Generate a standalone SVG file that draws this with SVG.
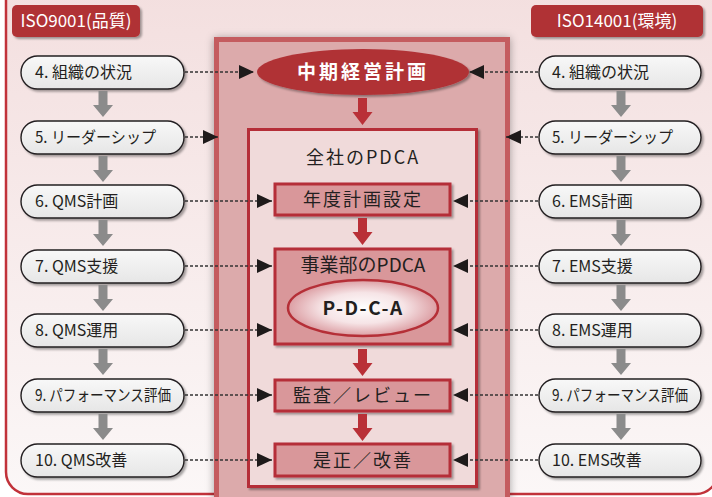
<svg xmlns="http://www.w3.org/2000/svg" width="712" height="497" viewBox="0 0 712 497">
<style>
.t{font-family:"Noto Sans CJK JP","Liberation Sans",sans-serif;fill:#231f20}
.gb{fill:url(#gbox);stroke:#231f20;stroke-width:1.4;filter:url(#sh)}
.gt{font-size:16px}
.sb{fill:#d9979a;stroke:#b52f37;stroke-width:3;filter:url(#sh)}
.ct{font-size:18px;letter-spacing:2px}
.lab{fill:#b03035;filter:url(#sh)}
.lt{font-family:"Noto Sans CJK JP","Liberation Sans",sans-serif;fill:#fff;font-size:17px}
.dl{fill:none;stroke:#333;stroke-width:1.5;stroke-dasharray:3 2;marker-end:url(#ah)}
.ga{fill:#8b8b8b}
.ra{fill:#b93037}
</style>
<defs>
<linearGradient id="bg" x1="0" y1="0" x2="0" y2="1">
<stop offset="0" stop-color="#f3dede"/>
<stop offset="1" stop-color="#fbf7f7"/>
</linearGradient>
<linearGradient id="gbox" x1="0" y1="0" x2="0" y2="1">
<stop offset="0" stop-color="#f8f8f8"/>
<stop offset="1" stop-color="#e6e6e6"/>
</linearGradient>
<radialGradient id="pdca" cx="0.5" cy="0.5" r="0.5">
<stop offset="0" stop-color="#ffffff"/>
<stop offset="0.55" stop-color="#f6e4e6"/>
<stop offset="1" stop-color="#dc9ea3"/>
</radialGradient>
<filter id="sh" x="-10%" y="-20%" width="130%" height="160%">
<feDropShadow dx="2" dy="2" stdDeviation="1" flood-color="#000" flood-opacity="0.35"/>
</filter>
<filter id="glow" x="-10%" y="-10%" width="120%" height="120%">
<feDropShadow dx="0" dy="1" stdDeviation="4" flood-color="#000" flood-opacity="0.35"/>
</filter>
<marker id="ah" viewBox="0 0 15 14" refX="15" refY="7" markerWidth="15" markerHeight="14" markerUnits="userSpaceOnUse" orient="auto">
<path d="M0,0 L15,7 L0,14 Z" fill="#1e1a1a"/>
</marker>
<path id="garrow" d="M-4.5,0 H4.5 V14 H10 L0,26 L-10,14 H-4.5 Z"/>
<path id="rarrow" d="M-4.5,0 H4.5 V14 H10 L0,27 L-10,14 H-4.5 Z"/>
</defs>

<rect x="0" y="0" width="712" height="497" fill="#ffffff"/>
<rect x="6" y="-30" width="712" height="524" rx="22" fill="url(#bg)" stroke="#c1323a" stroke-width="2.5"/>

<g id="label-iso9001">
<rect class="lab" x="12" y="5" width="128" height="32" rx="5"/>
<text class="lt" x="76" y="27" text-anchor="middle">ISO9001(品質)</text>
</g>
<g id="label-iso14001">
<rect class="lab" x="531" y="5" width="172" height="32" rx="5"/>
<text class="lt" x="617" y="27" text-anchor="middle">ISO14001(環境)</text>
</g>

<g id="center-frame">
<rect x="216.5" y="39.5" width="291" height="470" fill="#dcaaab" stroke="#c45c5e" stroke-width="5" filter="url(#glow)"/>
</g>

<g id="mid-plan">
<ellipse cx="363" cy="72" rx="106" ry="23" fill="#b03035" filter="url(#sh)"/>
<text x="363" y="79" text-anchor="middle" font-family="'Noto Sans CJK JP','Liberation Sans',sans-serif" font-size="19" fill="#fff" letter-spacing="3" font-weight="bold">中期経営計画</text>
</g>

<g id="company-pdca">
<rect x="248.5" y="129.5" width="228" height="357" fill="#f0dada" stroke="#b52f37" stroke-width="3" filter="url(#sh)"/>
<text class="t" x="363" y="164" text-anchor="middle" font-size="18" letter-spacing="2">全社のPDCA</text>
</g>

<g id="annual-plan">
<rect class="sb" x="275" y="184" width="175" height="31"/>
<text class="t ct" x="363" y="206" text-anchor="middle">年度計画設定</text>
</g>

<g id="division-pdca">
<rect class="sb" x="275" y="249" width="175" height="95"/>
<text class="t" x="363" y="272" text-anchor="middle" font-size="19">事業部のPDCA</text>
<ellipse cx="363" cy="308" rx="75" ry="28" fill="url(#pdca)" stroke="#b52f37" stroke-width="2.5"/>
<text class="t" x="363" y="315" text-anchor="middle" font-size="19" font-weight="bold" letter-spacing="1.5">P-D-C-A</text>
</g>

<g id="audit-review">
<rect class="sb" x="275" y="380" width="175" height="31"/>
<text class="t ct" x="363" y="402" text-anchor="middle" letter-spacing="1.5">監査／レビュー</text>
</g>

<g id="correction">
<rect class="sb" x="275" y="444" width="175" height="32"/>
<text class="t ct" x="363" y="467" text-anchor="middle" letter-spacing="2.5">是正／改善</text>
</g>

<g id="qms-4"><rect class="gb" x="21" y="56" width="163" height="33" rx="16.5"/><text class="t gt" x="35" y="78">4. 組織の状況</text></g>
<g id="qms-5"><rect class="gb" x="21" y="121" width="163" height="33" rx="16.5"/><text class="t gt" x="35" y="143" textLength="121" lengthAdjust="spacingAndGlyphs">5. リーダーシップ</text></g>
<g id="qms-6"><rect class="gb" x="21" y="185" width="163" height="33" rx="16.5"/><text class="t gt" x="35" y="207">6. QMS計画</text></g>
<g id="qms-7"><rect class="gb" x="21" y="250" width="163" height="33" rx="16.5"/><text class="t gt" x="35" y="272">7. QMS支援</text></g>
<g id="qms-8"><rect class="gb" x="21" y="314" width="163" height="33" rx="16.5"/><text class="t gt" x="35" y="336">8. QMS運用</text></g>
<g id="qms-9"><rect class="gb" x="21" y="379" width="163" height="33" rx="16.5"/><text class="t gt" x="35" y="401" textLength="136" lengthAdjust="spacingAndGlyphs">9. パフォーマンス評価</text></g>
<g id="qms-10"><rect class="gb" x="21" y="444" width="163" height="33" rx="16.5"/><text class="t gt" x="35" y="466">10. QMS改善</text></g>

<g id="ems-4"><rect class="gb" x="539" y="56" width="162" height="33" rx="16.5"/><text class="t gt" x="552" y="78">4. 組織の状況</text></g>
<g id="ems-5"><rect class="gb" x="539" y="121" width="162" height="33" rx="16.5"/><text class="t gt" x="552" y="143" textLength="121" lengthAdjust="spacingAndGlyphs">5. リーダーシップ</text></g>
<g id="ems-6"><rect class="gb" x="539" y="185" width="162" height="33" rx="16.5"/><text class="t gt" x="552" y="207">6. EMS計画</text></g>
<g id="ems-7"><rect class="gb" x="539" y="250" width="162" height="33" rx="16.5"/><text class="t gt" x="552" y="272">7. EMS支援</text></g>
<g id="ems-8"><rect class="gb" x="539" y="314" width="162" height="33" rx="16.5"/><text class="t gt" x="552" y="336">8. EMS運用</text></g>
<g id="ems-9"><rect class="gb" x="539" y="379" width="162" height="33" rx="16.5"/><text class="t gt" x="552" y="401" textLength="136" lengthAdjust="spacingAndGlyphs">9. パフォーマンス評価</text></g>
<g id="ems-10"><rect class="gb" x="539" y="444" width="162" height="33" rx="16.5"/><text class="t gt" x="552" y="466">10. EMS改善</text></g>

<g id="connectors">
<use href="#garrow" class="ga" x="103" y="91"/>
<use href="#garrow" class="ga" x="103" y="156"/>
<use href="#garrow" class="ga" x="103" y="220"/>
<use href="#garrow" class="ga" x="103" y="285"/>
<use href="#garrow" class="ga" x="103" y="349"/>
<use href="#garrow" class="ga" x="103" y="414"/>
<use href="#garrow" class="ga" x="621" y="91"/>
<use href="#garrow" class="ga" x="621" y="156"/>
<use href="#garrow" class="ga" x="621" y="220"/>
<use href="#garrow" class="ga" x="621" y="285"/>
<use href="#garrow" class="ga" x="621" y="349"/>
<use href="#garrow" class="ga" x="621" y="414"/>

<use href="#rarrow" class="ra" x="362.5" y="98"/>
<use href="#rarrow" class="ra" x="362.5" y="218"/>
<use href="#rarrow" class="ra" x="362.5" y="349"/>
<use href="#rarrow" class="ra" x="362.5" y="414"/>

<path class="dl" d="M185,72 H254"/>
<path class="dl" d="M538,72 H469"/>
<path class="dl" d="M185,137 H218"/>
<path class="dl" d="M538,137 H506"/>
<path class="dl" d="M185,201 H272"/>
<path class="dl" d="M538,201 H453"/>
<path class="dl" d="M185,266 H272"/>
<path class="dl" d="M538,266 H453"/>
<path class="dl" d="M185,330 H272"/>
<path class="dl" d="M538,330 H453"/>
<path class="dl" d="M185,395 H272"/>
<path class="dl" d="M538,395 H453"/>
<path class="dl" d="M185,460 H272"/>
<path class="dl" d="M538,460 H453"/>
</g>
</svg>
